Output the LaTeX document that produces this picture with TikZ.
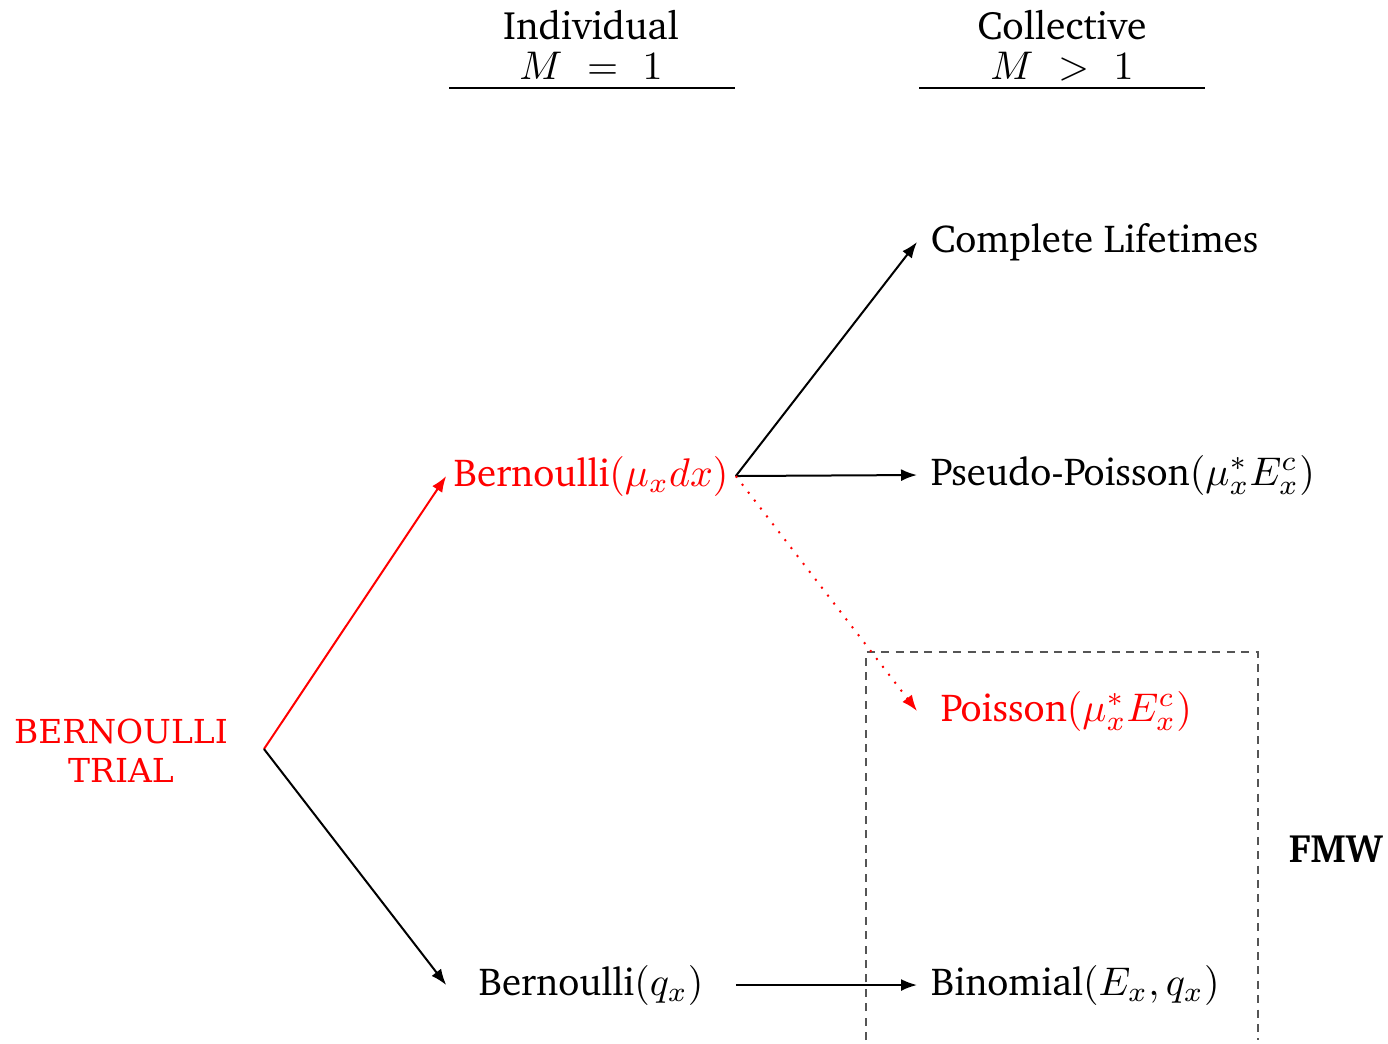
\documentclass[tikz,border=0pt]{standalone}
\usepackage{fontspec}
\usepackage[T1,TU]{fontenc}
\usetikzlibrary{arrows.meta}
\newfontfamily\dvserif{DejaVu Serif}
% Bitstream Charter for the labels, Computer Modern for the maths
\newcommand{\chr}{\fontencoding{T1}\fontfamily{bch}\selectfont}
\definecolor{boxgray}{HTML}{555555}
\tikzset{
  lbl/.style={font=\chr\fontsize{9.75}{12}\selectfont, inner ysep=2pt},
  midcol/.style={lbl, minimum width=72pt, inner xsep=0pt},
  rightcol/.style={lbl, anchor=west, inner xsep=3.25pt},
  head/.style={font=\chr\fontsize{9.9}{12}\selectfont, anchor=base, inner sep=0pt},
  conn/.style={line width=0.5pt, -{Latex[length=4pt,width=3pt]}},
  redconn/.style={conn, red},
  dotconn/.style={red, line width=0.5pt, dotted, -{Latex[length=4pt,width=3pt]}},
  fmwbox/.style={boxgray, line width=0.4pt, dash pattern=on 2pt off 1.6pt},
}
\begin{document}
\begin{tikzpicture}[x=0.25pt, y=-0.25pt]
  \useasboundingbox (0,0) rectangle (1388,1043);

  % column headings
  \node[head] (hind) at (591,39) {Individual};
  \node[head] (hindm) at (591,79) {$M\mkern6mu=\mkern6mu1$};
  \draw[line width=0.4pt] (449,88) -- (735,88);
  \node[head] (hcol) at (1062,39) {Collective};
  \node[head] (hcolm) at (1062,79) {$M\mkern6mu>\mkern6mu1$};
  \draw[line width=0.4pt] (919,88) -- (1205,88);

  % root of the tree
  \coordinate (root) at (264,749);
  \node[red, align=center, font=\dvserif\fontsize{8.25}{9.8}\selectfont, inner sep=0pt]
    (trial) at (121,751) {BERNOULLI\\TRIAL};

  % individual level
  \node[midcol, red] (bmu) at (591,476) {Bernoulli$(\mu_x dx)$};
  \node[midcol] (bq) at (591,985) {Bernoulli$(q_x)$};

  % collective level
  \node[rightcol] (cl) at (917,242) {Complete Lifetimes};
  \node[rightcol] (pp) at (917,475) {Pseudo-Poisson$(\mu^*_x E^c_x)$};
  \node[rightcol, red, inner xsep=5.75pt] (poi) at (917,711) {Poisson$(\mu^*_x E^c_x)$};
  \node[rightcol] (bin) at (917,985) {Binomial$(E_x, q_x)$};

  % framework region
  \draw[fmwbox] (866,1040) -- (866,652) -- (1258,652) -- (1258,1040);
  \node[font=\chr\bfseries\fontsize{9.9}{12}\selectfont, anchor=base, inner sep=0pt]
    (fmw) at (1336,862) {FMW};

  % branches
  \draw[redconn] (root) -- (bmu.west);
  \draw[conn] (root) -- (bq.west);
  \draw[conn] (bmu.east) -- (cl.west);
  \draw[conn] (bmu.east) -- (pp.west);
  \draw[dotconn] (bmu.east) -- (poi.west);
  \draw[conn] (bq.east) -- (bin.west);
\end{tikzpicture}
\end{document}
